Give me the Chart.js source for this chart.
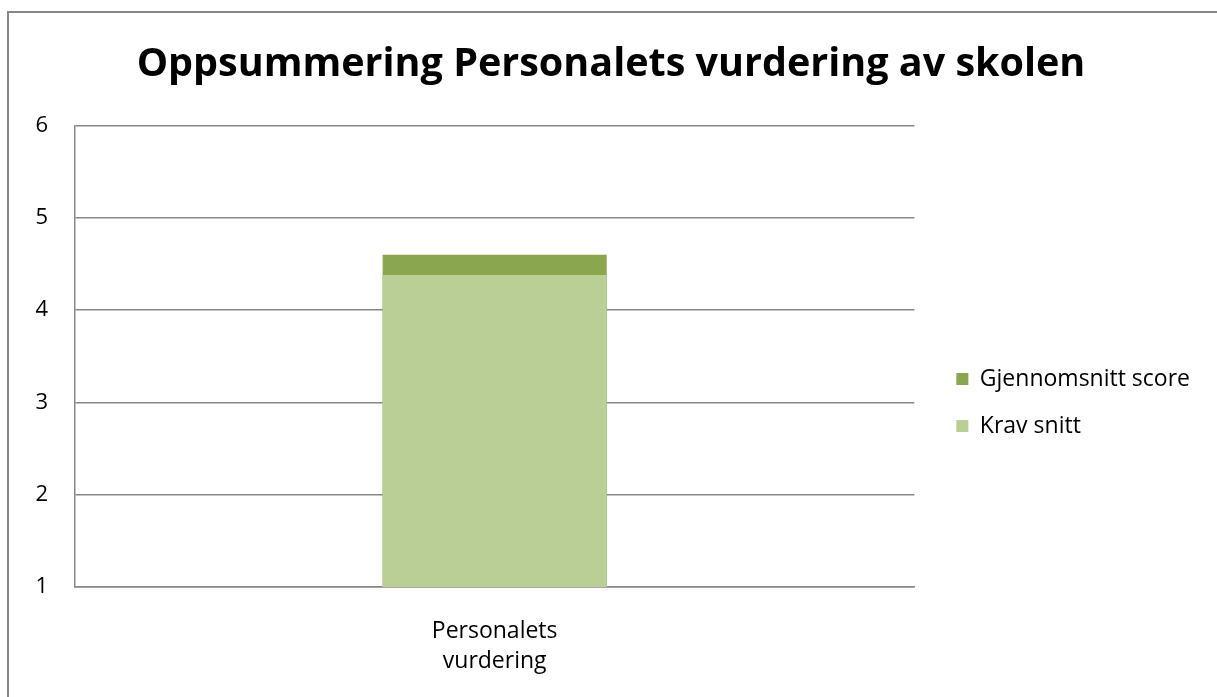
<!DOCTYPE html>
<html>
<head>
<meta charset="utf-8">
<script src="https://cdn.jsdelivr.net/npm/chart.js@4"></script>
<style>
  body { margin: 0; background: #fff; overflow: hidden; }
  #frame {
    position: absolute; left: 7px; top: 11px; width: 1300px; height: 800px;
    border-left: 2px solid #878787; border-top: 2px solid #878787;
  }
  #chart { position: absolute; left: 0; top: 0; }
</style>
</head>
<body>
<div id="frame"></div>
<canvas id="chart" width="1217" height="697"></canvas>
<script>
const categories = [["Personalets", "vurdering"]];
const kravSnitt = [4.38];
const gjennomsnittScore = [4.6];
const yTicks = [1, 2, 3, 4, 5, 6];

const chartCanvas = document.getElementById("chart");
const font = "'Open Sans', 'DejaVu Sans', sans-serif";

// nudge the legend away from the plot area and re-centre the title, like the original
const legendOffset = {
  id: "legendOffset",
  afterLayout(chart) {
    const lg = chart.legend;
    lg.left += 18;
    lg.right += 18;
    lg.top += 54;
    lg.bottom += 54;
    const tb = chart.titleBlock;
    tb.left += 20;
    tb.right += 20;
  },
};

new Chart(chartCanvas, {
  type: "bar",
  data: {
    labels: categories,
    datasets: [
      {
        label: "Krav snitt",
        data: kravSnitt,
        backgroundColor: "#b9cf96",
      },
      {
        label: "Gjennomsnitt score",
        data: gjennomsnittScore,
        backgroundColor: "#8aa64e",
      },
    ],
  },
  options: {
    responsive: false,
    animation: false,
    layout: { padding: { left: 0, right: 35, top: 0, bottom: 0 } },
    datasets: {
      bar: {
        grouped: false,
        barPercentage: 1,
        categoryPercentage: 0.267,
      },
    },
    scales: {
      x: {
        grid: { display: false },
        border: { display: true, color: "#878787", width: 1.5 },
        ticks: {
          color: "#000",
          font: { family: font, size: 23, lineHeight: 1.3 },
          maxRotation: 0,
          padding: 22,
        },
        afterFit(scale) {
          scale.height = 110;
        },
      },
      y: {
        min: yTicks[0],
        max: yTicks[yTicks.length - 1],
        afterBuildTicks(scale) {
          scale.ticks = yTicks.map((v) => ({ value: v }));
        },
        grid: { color: "#878787", lineWidth: 1.5, drawTicks: false },
        border: { display: true, color: "#878787", width: 1.5 },
        ticks: {
          color: "#000",
          font: { family: font, size: 22 },
          padding: 27,
        },
        afterFit(scale) {
          scale.width = 75;
        },
      },
    },
    plugins: {
      title: {
        display: true,
        text: "Oppsummering Personalets vurdering av skolen",
        color: "#000",
        font: { family: font, size: 39.5, weight: "bold", lineHeight: 1.2 },
        padding: { top: 41, bottom: 37 },
      },
      legend: {
        position: "right",
        reverse: true,
        labels: {
          color: "#000",
          font: { family: font, size: 23 },
          boxWidth: 12,
          boxHeight: 12,
          padding: 24,
        },
      },
      tooltip: { enabled: false },
    },
  },
  plugins: [legendOffset],
});
</script>
</body>
</html>
